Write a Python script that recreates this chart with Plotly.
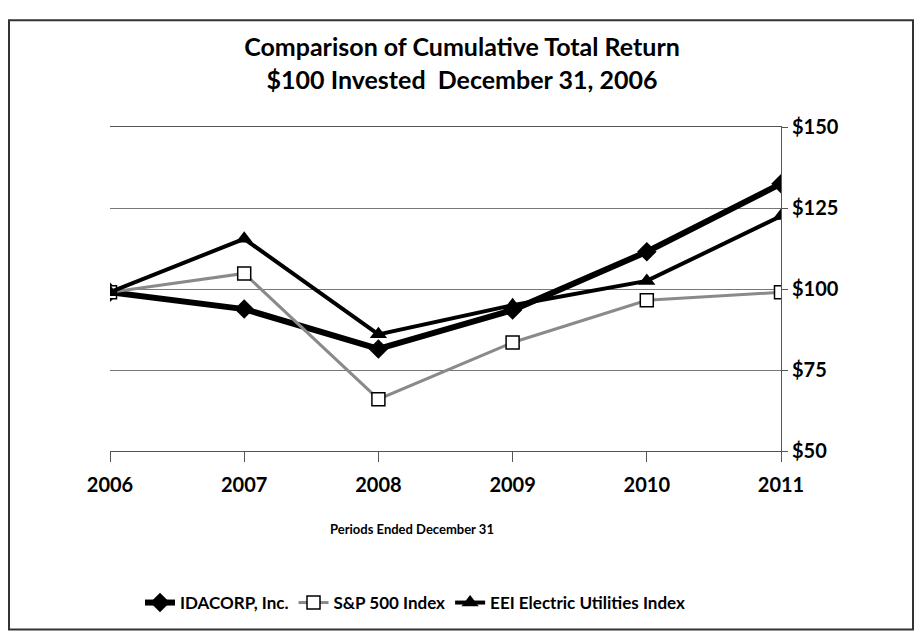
import plotly.graph_objects as go

years = [2006, 2007, 2008, 2009, 2010, 2011]
idacorp = [99, 93.8, 81.5, 93.5, 111.5, 132.5]
sp500 = [99, 104.8, 66, 83.5, 96.5, 99]
eei = [99, 115.5, 86, 95, 102.5, 122.5]
y_ticks = [50, 75, 100, 125, 150]
y_tick_labels = ["$50", "$75", "$100", "$125", "$150"]

FONT = "Lato"
OFF = 8  # page body margin
W, H = 923 - 2 * OFF, 640 - 2 * OFF
# plot area in reference pixel coordinates
X0, X1, Y0, Y1 = 110, 781, 127, 452
L, T = X0 - OFF, Y0 - OFF
R, B = W - (X1 - OFF), H - (Y1 - OFF)
pw, ph = X1 - X0, Y1 - Y0

def px(x):
    return (x - X0) / pw

def py(y):
    return (Y1 - y) / ph

fig = go.Figure()
fig.add_trace(go.Scatter(
    x=years, y=idacorp, name="IDACORP, Inc.", mode="lines+markers",
    line=dict(color="black", width=6),
    marker=dict(symbol="diamond", size=15, color="black")))
fig.add_trace(go.Scatter(
    x=years, y=sp500, name="S&P 500 Index", mode="lines+markers",
    line=dict(color="#8a8a8a", width=3),
    marker=dict(symbol="square", size=13, color="white",
                line=dict(color="black", width=1.5))))
fig.add_trace(go.Scatter(
    x=years, y=eei, name="EEI Electric Utilities Index", mode="lines+markers",
    line=dict(color="black", width=4),
    marker=dict(symbol="triangle-up", size=15, color="black")))

fig.update_layout(
    width=W, height=H,
    margin=dict(l=L, r=R, t=T, b=B),
    paper_bgcolor="white", plot_bgcolor="white",
    font=dict(family=FONT, color="black"),
    title=dict(text="Comparison of Cumulative Total Return<br>$100 Invested  December 31, 2006",
               x=(462 - OFF) / W, xanchor="center", y=1 - (56 - OFF) / H, yanchor="middle",
               font=dict(family=FONT, size=25, weight="bold")),
    xaxis=dict(range=[2006, 2011], tickmode="array", tickvals=years,
               ticktext=[str(y) for y in years], showgrid=False,
               showline=True, linecolor="#555", linewidth=1, mirror=True,
               ticks="outside", ticklen=10, tickcolor="#555",
               ticklabelstandoff=6,
               tickfont=dict(family=FONT, size=20, weight="bold"),
               zeroline=False, fixedrange=True),
    yaxis=dict(range=[50, 150], side="right", tickmode="array",
               tickvals=y_ticks, ticktext=y_tick_labels,
               showgrid=True, gridcolor="#777", gridwidth=1,
               showline=True, linecolor="#555", linewidth=1,
               ticks="outside", ticklen=6, tickcolor="#555",
               tickfont=dict(family=FONT, size=20, weight="bold"),
               zeroline=False, fixedrange=True),
    showlegend=True,
    legend=dict(orientation="h", x=px(140), xanchor="left",
                y=py(603), yanchor="middle",
                font=dict(family=FONT, size=17, weight="bold"),
                tracegroupgap=0,
                bgcolor="rgba(0,0,0,0)"),
    shapes=[dict(type="rect", xref="paper", yref="paper",
                 x0=px(9), x1=px(913), y0=py(631), y1=py(20),
                 line=dict(color="#333", width=2), layer="below")],
    annotations=[dict(text="Periods Ended December 31", xref="paper", yref="paper",
                      x=px(412), y=py(530), xanchor="center", yanchor="middle",
                      showarrow=False,
                      font=dict(family=FONT, size=13, weight="bold"))],
)

fig.write_html("out.html")
